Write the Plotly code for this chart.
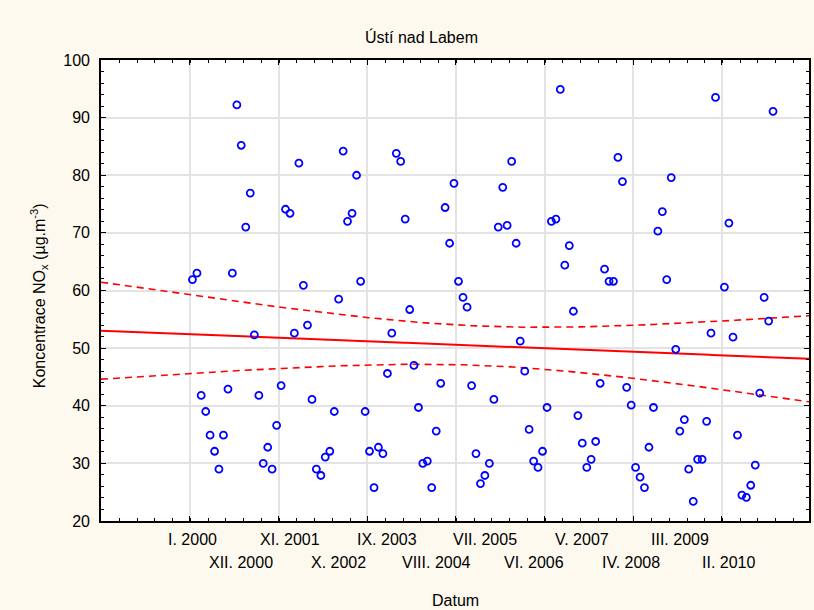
import numpy as np
import pandas as pd
import plotly.graph_objects as go

# Monthly NOx concentration, Jan 2000 - Dec 2010 (None = month without a value)
nox_values = [
    61.9, 63.0, 41.8, 39.0, 34.9, 32.1, 29.0, 34.9, 42.9, 63.0,
    92.2, 85.2, 71.0, 76.9, 52.3, 41.8, 30.0, 32.8, 29.0, 36.6,
    43.5, 74.1, 73.4, 52.6, 82.1, 60.9, 54.0, 41.1, 29.0, 27.9,
    31.1, 32.1, 39.0, 58.5, 84.2, 72.0, 73.4, 80.0, 61.6, 39.0,
    32.1, 25.8, 32.8, 31.7, 45.6, 52.6, 83.8, 82.4, 72.4, 56.7,
    47.0, 39.7, 30.0, 30.4, 25.8, 35.6, 43.9, 74.4, 68.2, 78.6,
    61.6, 58.8, 57.1, 43.5, 31.7, 26.5, 27.9, 30.0, 41.1, 71.0,
    77.9, 71.3, 82.4, 68.2, 51.2, 46.0, 35.9, 30.4, 29.3, 32.1,
    39.7, 72.0, 72.4, 94.9, 64.4, 67.8, 56.4, 38.3, 33.5, 29.3,
    30.7, 33.8, 43.9, 63.7, 61.6, 61.6, 83.1, 78.9, 43.2, 40.1,
    29.3, 27.6, 25.8, 32.8, 39.7, 70.3, 73.7, 61.9, 79.6, 49.8,
    35.6, 37.6, 29.0, 23.4, 30.7, 30.7, 37.3, 52.6, 93.5, None,
    60.6, 71.7, 51.9, 34.9, 24.5, 24.1, 26.2, 29.7, 42.2, 58.8,
    54.7, 91.1,
]
sample_dates = pd.date_range("2000-01-01", periods=len(nox_values), freq="MS") + pd.Timedelta(days=14)

# Date labels shown under the axis (every 11th sample), alternating in two rows
date_labels = [
    "I. 2000", "XII. 2000", "XI. 2001", "X. 2002", "IX. 2003", "VIII. 2004",
    "VII. 2005", "VI. 2006", "V. 2007", "IV. 2008", "III. 2009", "II. 2010",
]
label_step = 11

FONT = "Liberation Sans, Arial, sans-serif"
RED = "#FF0000"
BLUE = "#0000FF"

# Linear regression with 95% confidence band of the mean
t0 = sample_dates[0]
mask = np.array([v is not None for v in nox_values])
x_days = np.array([(d - t0).days for d in sample_dates], dtype=float)[mask]
y_vals = np.array([v for v in nox_values if v is not None], dtype=float)
n = len(y_vals)
slope, intercept = np.polyfit(x_days, y_vals, 1)
resid = y_vals - (intercept + slope * x_days)
s = np.sqrt(np.sum(resid ** 2) / (n - 2))
x_mean = x_days.mean()
sxx = np.sum((x_days - x_mean) ** 2)
t_crit = 1.9785  # Student t, 0.975 quantile, df = n - 2

x_start = t0 - pd.Timedelta(days=628)
x_end = t0 + pd.Timedelta(days=4234)
grid_days = np.linspace((x_start - t0).days, (x_end - t0).days, 300)
fit = intercept + slope * grid_days
half = t_crit * s * np.sqrt(1.0 / n + (grid_days - x_mean) ** 2 / sxx)
grid_dates = [t0 + pd.Timedelta(days=float(d)) for d in grid_days]

fig = go.Figure()
fig.add_trace(go.Scatter(
    x=grid_dates, y=fit + half, mode="lines",
    line=dict(color=RED, width=1.6, dash="7px,5px"), hoverinfo="skip",
))
fig.add_trace(go.Scatter(
    x=grid_dates, y=fit - half, mode="lines",
    line=dict(color=RED, width=1.6, dash="7px,5px"), hoverinfo="skip",
))
fig.add_trace(go.Scatter(
    x=grid_dates, y=fit, mode="lines",
    line=dict(color=RED, width=2), hoverinfo="skip",
))
fig.add_trace(go.Scatter(
    x=sample_dates, y=nox_values, mode="markers",
    marker=dict(symbol="circle-open", size=7, color=BLUE, line=dict(width=1.8, color=BLUE)),
))

day_ms = 86400000
major_days = 609

fig.update_xaxes(
    type="date",
    range=[x_start, x_end],
    showticklabels=False,
    tick0=t0 - pd.Timedelta(days=18),
    dtick=major_days * day_ms,
    ticks="inside", ticklen=5, tickwidth=1, tickcolor="black",
    minor=dict(dtick=major_days / 5 * day_ms, ticks="inside", ticklen=3,
               tickcolor="black", showgrid=False),
    showgrid=True, gridcolor="#E3E3E3", gridwidth=1.5,
    showline=True, linecolor="black", linewidth=1.6, mirror="allticks",
    zeroline=False,
)
fig.update_yaxes(
    range=[20, 100], dtick=10, tick0=0,
    ticks="inside", ticklen=5, tickwidth=1, tickcolor="black",
    minor=dict(dtick=2, ticks="inside", ticklen=3, tickcolor="black", showgrid=False),
    showgrid=True, gridcolor="#E3E3E3", gridwidth=1.5,
    showline=True, linecolor="black", linewidth=1.6, mirror="allticks",
    zeroline=False,
    tickfont=dict(family=FONT, size=16, color="black"),
    ticklabelstandoff=6,
)

annotations = []
for k, text in enumerate(date_labels):
    annotations.append(dict(
        x=sample_dates[k * label_step], y=-0.041 if k % 2 == 0 else -0.091,
        xref="x", yref="paper", text=text, showarrow=False,
        xanchor="center", yanchor="middle",
        font=dict(family=FONT, size=16, color="black"),
    ))
annotations.append(dict(
    x=0.5, y=-0.1735, xref="paper", yref="paper", text="Datum", showarrow=False,
    xanchor="center", yanchor="middle", font=dict(family=FONT, size=16, color="black"),
))
annotations.append(dict(
    x=-0.0873, y=0.488, xref="paper", yref="paper",
    text="Koncentrace NO<sub>x</sub> (µg.m<sup>-3</sup>)", showarrow=False,
    textangle=-90, xanchor="center", yanchor="middle",
    font=dict(family=FONT, size=16, color="black"),
))
annotations.append(dict(
    x=0.452, y=1.05, xref="paper", yref="paper", text="Ústí nad Labem", showarrow=False,
    xanchor="center", yanchor="middle", font=dict(family=FONT, size=16, color="black"),
))

fig.update_layout(
    width=814, height=610,
    margin=dict(l=101, r=3, t=60, b=89),
    paper_bgcolor="#FDF9EE", plot_bgcolor="white",
    showlegend=False,
    annotations=annotations,
    font=dict(family=FONT, size=16, color="black"),
)

fig.write_html("out.html")
